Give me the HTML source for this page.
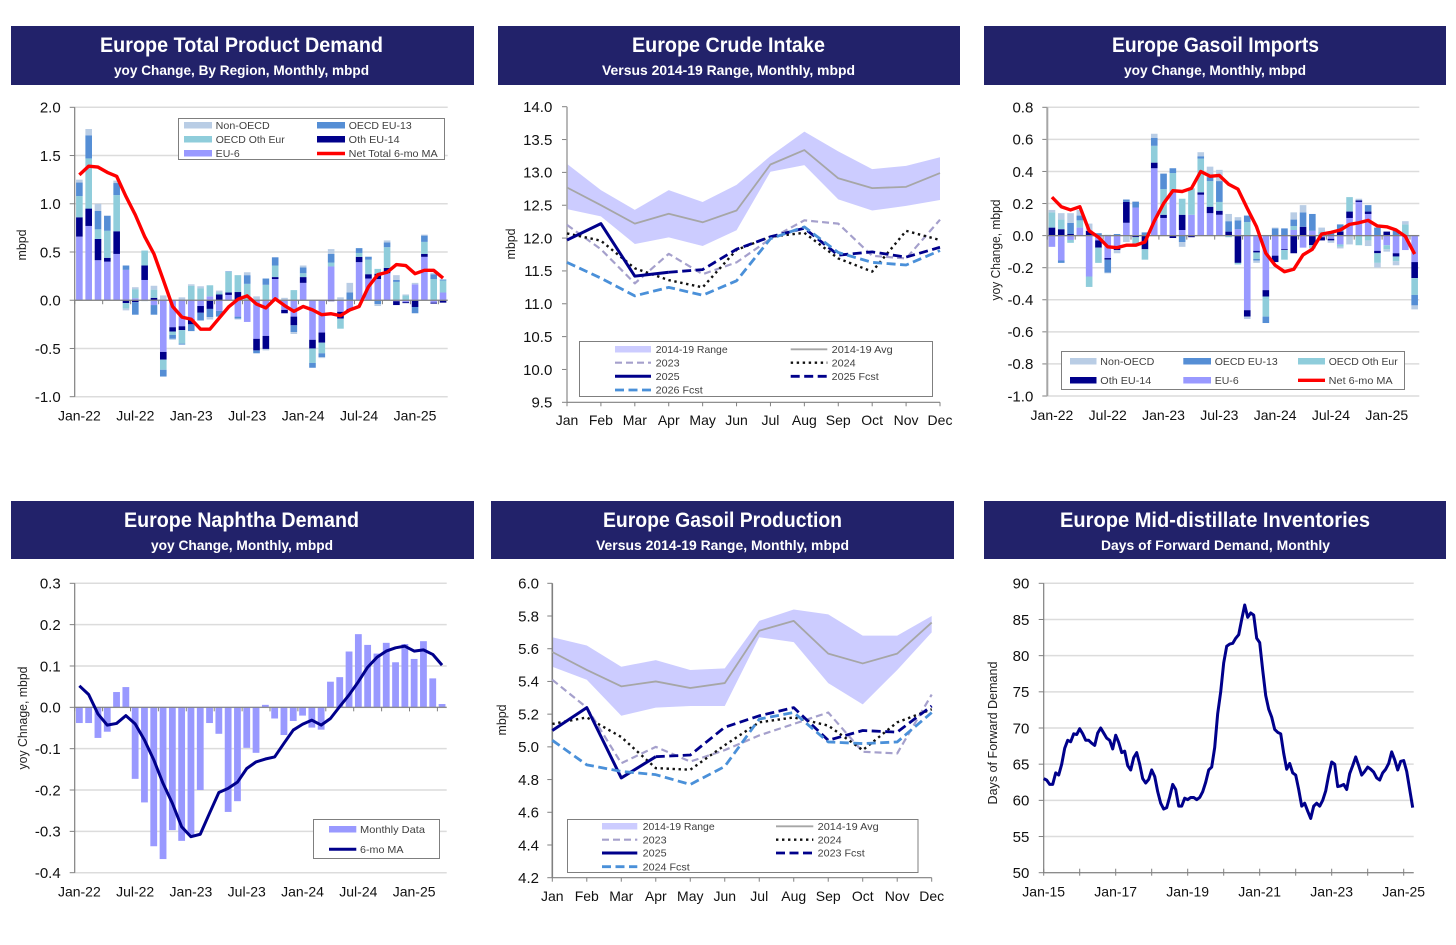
<!DOCTYPE html>
<html lang="en">
<head>
<meta charset="utf-8">
<title>Europe Oil Charts</title>
<style>
html,body{margin:0;padding:0;background:#fff;width:1456px;height:945px;overflow:hidden}
svg{display:block;font-family:"Liberation Sans",sans-serif}
.ttl{fill:#fff;font-size:21px;font-weight:bold;text-anchor:start}
.sub{fill:#fff;font-size:14px;font-weight:bold;text-anchor:start}
.lg{fill:#404040;font-size:10.5px}
.at{fill:#222;font-size:13px;text-anchor:middle}
.hd{fill:#22226a}
.lgbox{fill:#fff;stroke:#7f7f7f;stroke-width:1}
</style>
</head>
<body>
<svg id="root" xmlns="http://www.w3.org/2000/svg" width="1456" height="945" viewBox="0 0 1456 945">
<rect width="1456" height="945" fill="#fff"/>

<g>
<rect class="hd" x="11" y="26" width="463" height="59"/>
<text class="ttl" x="100" y="52" textLength="283" lengthAdjust="spacingAndGlyphs">Europe Total Product Demand</text>
<text class="sub" x="114" y="75" textLength="255" lengthAdjust="spacingAndGlyphs">yoy Change, By Region, Monthly, mbpd</text>
</g>
<g>
<rect class="hd" x="498" y="26" width="462" height="59"/>
<text class="ttl" x="632" y="52" textLength="193" lengthAdjust="spacingAndGlyphs">Europe Crude Intake</text>
<text class="sub" x="602" y="75" textLength="253" lengthAdjust="spacingAndGlyphs">Versus 2014-19 Range, Monthly, mbpd</text>
</g>
<g>
<rect class="hd" x="984" y="26" width="462" height="59"/>
<text class="ttl" x="1112" y="52" textLength="207" lengthAdjust="spacingAndGlyphs">Europe Gasoil Imports</text>
<text class="sub" x="1124" y="75" textLength="182" lengthAdjust="spacingAndGlyphs">yoy Change, Monthly, mbpd</text>
</g>
<g>
<rect class="hd" x="11" y="501" width="463" height="58"/>
<text class="ttl" x="124" y="527" textLength="235" lengthAdjust="spacingAndGlyphs">Europe Naphtha Demand</text>
<text class="sub" x="151" y="550" textLength="182" lengthAdjust="spacingAndGlyphs">yoy Change, Monthly, mbpd</text>
</g>
<g>
<rect class="hd" x="491" y="501" width="463" height="58"/>
<text class="ttl" x="603" y="527" textLength="239" lengthAdjust="spacingAndGlyphs">Europe Gasoil Production</text>
<text class="sub" x="596" y="550" textLength="253" lengthAdjust="spacingAndGlyphs">Versus 2014-19 Range, Monthly, mbpd</text>
</g>
<g>
<rect class="hd" x="984" y="501" width="462" height="58"/>
<text class="ttl" x="1060" y="527" textLength="310" lengthAdjust="spacingAndGlyphs">Europe Mid-distillate Inventories</text>
<text class="sub" x="1101" y="550" textLength="229" lengthAdjust="spacingAndGlyphs">Days of Forward Demand, Monthly</text>
</g>

<g id="chart1"></g>
<g id="chart2"></g>
<g id="chart3"></g>
<g id="chart4"></g>
<g id="chart5"></g>
<g id="chart6"></g>

<text class="at" transform="translate(26,245) rotate(-90)" textLength="31" lengthAdjust="spacingAndGlyphs">mbpd</text>
<text class="at" transform="translate(515,244) rotate(-90)" textLength="31" lengthAdjust="spacingAndGlyphs">mbpd</text>
<text class="at" transform="translate(1000,250) rotate(-90)" textLength="101" lengthAdjust="spacingAndGlyphs">yoy Change, mbpd</text>
<text class="at" transform="translate(27,718) rotate(-90)" textLength="103" lengthAdjust="spacingAndGlyphs">yoy Chnage, mbpd</text>
<text class="at" transform="translate(506,720) rotate(-90)" textLength="31" lengthAdjust="spacingAndGlyphs">mbpd</text>
<text class="at" transform="translate(997,733) rotate(-90)" textLength="143" lengthAdjust="spacingAndGlyphs">Days of Forward Demand</text>

<g>
<rect class="lgbox" x="178.5" y="118.5" width="266" height="41"/>
<rect x="184" y="122" width="28" height="6.5" fill="#b9cde5"/>
<text class="lg" x="215.7" y="129" textLength="54" lengthAdjust="spacingAndGlyphs">Non-OECD</text>
<rect x="184" y="136" width="28" height="6.5" fill="#8fcddb"/>
<text class="lg" x="215.7" y="143" textLength="69" lengthAdjust="spacingAndGlyphs">OECD Oth Eur</text>
<rect x="184" y="150" width="28" height="6.5" fill="#9999ff"/>
<text class="lg" x="215.7" y="157" textLength="24" lengthAdjust="spacingAndGlyphs">EU-6</text>
<rect x="317" y="122" width="28" height="6.5" fill="#558ed5"/>
<text class="lg" x="348.7" y="129" textLength="63" lengthAdjust="spacingAndGlyphs">OECD EU-13</text>
<rect x="317" y="136" width="28" height="6.5" fill="#00008b"/>
<text class="lg" x="348.7" y="143" textLength="51" lengthAdjust="spacingAndGlyphs">Oth EU-14</text>
<line x1="317" x2="345" y1="153.5" y2="153.5" stroke="#ff0000" stroke-width="3.4"/>
<text class="lg" x="348.7" y="157" textLength="89" lengthAdjust="spacingAndGlyphs">Net Total 6-mo MA</text>
</g>

<g>
<rect class="lgbox" x="579.5" y="341.5" width="353" height="55"/>
<rect x="615" y="346" width="36" height="6.5" fill="#ccccff"/>
<text class="lg" x="655.7" y="353" textLength="72" lengthAdjust="spacingAndGlyphs">2014-19 Range</text>
<line x1="790.7" x2="827.3" y1="349.3" y2="349.3" stroke="#a6a6a6" stroke-width="1.8"/>
<text class="lg" x="831.7" y="353" textLength="61" lengthAdjust="spacingAndGlyphs">2014-19 Avg</text>
<line x1="615" x2="651" y1="362.7" y2="362.7" stroke="#a5a0cc" stroke-width="2.2" stroke-dasharray="7 4"/>
<text class="lg" x="655.7" y="366.5" textLength="24" lengthAdjust="spacingAndGlyphs">2023</text>
<line x1="790.7" x2="827.3" y1="362.7" y2="362.7" stroke="#111" stroke-width="2.4" stroke-dasharray="2.4 3.6"/>
<text class="lg" x="831.7" y="366.5" textLength="24" lengthAdjust="spacingAndGlyphs">2024</text>
<line x1="615" x2="651" y1="376.3" y2="376.3" stroke="#00008b" stroke-width="3"/>
<text class="lg" x="655.7" y="380" textLength="24" lengthAdjust="spacingAndGlyphs">2025</text>
<line x1="790.7" x2="827.3" y1="376.3" y2="376.3" stroke="#00008b" stroke-width="2.8" stroke-dasharray="9 4.5"/>
<text class="lg" x="831.7" y="380" textLength="47" lengthAdjust="spacingAndGlyphs">2025 Fcst</text>
<line x1="615" x2="651" y1="390" y2="390" stroke="#4a90d9" stroke-width="2.8" stroke-dasharray="9 4.5"/>
<text class="lg" x="655.7" y="393.7" textLength="47" lengthAdjust="spacingAndGlyphs">2026 Fcst</text>
</g>

<g>
<rect class="lgbox" x="1061.5" y="351.5" width="343" height="38"/>
<rect x="1070" y="358" width="26.5" height="6.5" fill="#b9cde5"/>
<text class="lg" x="1100.3" y="365" textLength="54" lengthAdjust="spacingAndGlyphs">Non-OECD</text>
<rect x="1183.3" y="358" width="27.7" height="6.5" fill="#558ed5"/>
<text class="lg" x="1214.7" y="365" textLength="63" lengthAdjust="spacingAndGlyphs">OECD EU-13</text>
<rect x="1298" y="358" width="27" height="6.5" fill="#8fcddb"/>
<text class="lg" x="1328.7" y="365" textLength="69" lengthAdjust="spacingAndGlyphs">OECD Oth Eur</text>
<rect x="1070" y="377" width="26.5" height="6.5" fill="#00008b"/>
<text class="lg" x="1100.3" y="384" textLength="51" lengthAdjust="spacingAndGlyphs">Oth EU-14</text>
<rect x="1183.3" y="377" width="27.7" height="6.5" fill="#9999ff"/>
<text class="lg" x="1214.7" y="384" textLength="24" lengthAdjust="spacingAndGlyphs">EU-6</text>
<line x1="1298" x2="1325" y1="380.3" y2="380.3" stroke="#ff0000" stroke-width="3.4"/>
<text class="lg" x="1328.7" y="384" textLength="64" lengthAdjust="spacingAndGlyphs">Net 6-mo MA</text>
</g>

<g>
<rect class="lgbox" x="313.5" y="819.5" width="126" height="39"/>
<rect x="329" y="826" width="27.3" height="6.5" fill="#9999ff"/>
<text class="lg" x="360" y="833" textLength="65" lengthAdjust="spacingAndGlyphs">Monthly Data</text>
<line x1="329" x2="356.3" y1="849.3" y2="849.3" stroke="#00008b" stroke-width="3"/>
<text class="lg" x="360" y="853" textLength="43.5" lengthAdjust="spacingAndGlyphs">6-mo MA</text>
</g>

<g>
<rect class="lgbox" x="567.5" y="819.5" width="350.5" height="53"/>
<rect x="602" y="823" width="35.3" height="6.5" fill="#ccccff"/>
<text class="lg" x="642.7" y="830" textLength="72" lengthAdjust="spacingAndGlyphs">2014-19 Range</text>
<line x1="776" x2="813.3" y1="826.3" y2="826.3" stroke="#a6a6a6" stroke-width="1.8"/>
<text class="lg" x="817.7" y="830" textLength="61" lengthAdjust="spacingAndGlyphs">2014-19 Avg</text>
<line x1="602" x2="637.3" y1="839.7" y2="839.7" stroke="#a5a0cc" stroke-width="2.2" stroke-dasharray="7 4"/>
<text class="lg" x="642.7" y="843.5" textLength="24" lengthAdjust="spacingAndGlyphs">2023</text>
<line x1="776" x2="813.3" y1="839.7" y2="839.7" stroke="#111" stroke-width="2.4" stroke-dasharray="2.4 3.6"/>
<text class="lg" x="817.7" y="843.5" textLength="24" lengthAdjust="spacingAndGlyphs">2024</text>
<line x1="602" x2="637.3" y1="853" y2="853" stroke="#00008b" stroke-width="3"/>
<text class="lg" x="642.7" y="856.7" textLength="24" lengthAdjust="spacingAndGlyphs">2025</text>
<line x1="776" x2="813.3" y1="853" y2="853" stroke="#00008b" stroke-width="2.8" stroke-dasharray="9 4.5"/>
<text class="lg" x="817.7" y="856.7" textLength="47" lengthAdjust="spacingAndGlyphs">2023 Fcst</text>
<line x1="602" x2="637.3" y1="866.7" y2="866.7" stroke="#4a90d9" stroke-width="2.8" stroke-dasharray="9 4.5"/>
<text class="lg" x="642.7" y="870.4" textLength="47" lengthAdjust="spacingAndGlyphs">2024 Fcst</text>
</g>
</svg>

<script>
/* ---------- Chart 1: Europe Total Product Demand ---------- */
const c1XLabels = ['Jan-22','Jul-22','Jan-23','Jul-23','Jan-24','Jul-24','Jan-25'];
const c1YLabels = ['2.0','1.5','1.0','0.5','0.0','-0.5','-1.0'];
const c1Eu6 = [.66,.77,.415,.40,.48,.315,.02,.21,-.05,-.536,-.28,-.27,-.20,-.06,.04,-.11,.055,-.17,-.225,-.40,-.37,.22,-.10,-.17,.18,-.41,-.335,.35,-.12,-.09,.395,.225,.22,.28,-.01,-.02,.165,.45,-.025,.08];
const c1Oth14 = [.20,.18,.22,.04,.235,-.03,-.02,.15,.025,-.08,-.045,-.04,-.05,-.07,-.09,.06,.025,.085,0,-.12,-.135,.02,-.035,-.09,.06,-.09,-.105,-.01,-.07,-.01,.055,.045,.055,.055,-.04,-.01,-.07,.03,-.01,-.025];
const c1OthEur = [.22,.52,.10,.28,.375,-.055,.095,.155,.085,-.105,-.035,-.14,.15,.125,.115,.02,.215,.175,.17,0,.16,.12,0,.105,.04,-.15,-.11,.04,-.105,0,.04,.15,.05,.215,.19,.05,0,.125,.22,.125];
const c1Eu13 = [.14,.24,.19,.155,.125,.045,-.13,0,-.10,-.07,-.04,-.01,-.07,-.08,-.085,-.06,.005,-.02,.09,-.03,.065,.085,0,-.07,.06,-.05,-.04,.09,0,.08,.05,.03,-.04,.05,.02,0,-.065,.065,.05,.01];
const c1NonOecd = [.03,.065,.075,.005,.025,-.02,.02,-.01,.04,.05,-.01,.03,.015,.02,-.025,.02,0,-.01,.03,.04,-.015,0,.025,-.02,.02,0,-.01,.05,.03,.10,0,.005,-.02,.02,.05,.01,.015,.01,.015,0];
const c1NetMa = [1.30,1.39,1.38,1.325,1.285,1.075,.885,.66,.48,.21,-.065,-.175,-.197,-.30,-.30,-.185,-.07,.01,.045,-.04,-.08,.015,-.055,-.115,-.065,-.10,-.15,-.14,-.16,-.10,-.065,.14,.265,.29,.37,.36,.275,.31,.31,.23];

/* ---------- Chart 2: Europe Crude Intake ---------- */
const monthNames = ['Jan','Feb','Mar','Apr','May','Jun','Jul','Aug','Sep','Oct','Nov','Dec'];
const c2YLabels = ['14.0','13.5','13.0','12.5','12.0','11.5','11.0','10.5','10.0','9.5'];
const c2RangeLow = [12.44,12.33,11.91,12.01,11.88,12.12,13.01,13.11,12.59,12.42,12.49,12.58];
const c2RangeHigh = [13.13,12.73,12.43,12.73,12.55,12.81,13.25,13.62,13.32,13.05,13.10,13.23];
const c2Avg = [12.77,12.50,12.22,12.37,12.24,12.42,13.12,13.34,12.91,12.76,12.78,12.99];
const c2Y2023 = [12.20,11.83,11.31,11.76,11.45,11.63,11.99,12.27,12.22,11.73,11.69,12.28];
const c2Y2024 = [12.07,11.96,11.54,11.36,11.25,11.82,12.02,12.08,11.69,11.49,12.11,11.97];
const c2Y2025 = [11.97,12.22,11.42,11.48,null,null,null,null,null,null,null,null];
const c2F2025 = [null,null,null,11.48,11.52,11.83,12.02,12.15,11.74,11.79,11.71,11.86];
const c2F2026 = [11.63,11.39,11.12,11.25,11.13,11.35,11.99,12.17,11.78,11.63,11.59,11.81];

/* ---------- Chart 3: Europe Gasoil Imports ---------- */
const c3XLabels = ['Jan-22','Jul-22','Jan-23','Jul-23','Jan-24','Jul-24','Jan-25'];
const c3YLabels = ['0.8','0.6','0.4','0.2','0.0','-0.2','-0.4','-0.6','-0.8','-1.0'];
const c3Eu6 = [-.07,-.155,-.027,.05,-.255,-.03,-.14,-.08,.08,.175,0,.42,.11,.27,.035,.13,.255,.14,.13,0,.04,-.465,-.095,-.34,-.125,-.085,.035,-.075,.03,-.01,-.02,-.055,.11,.21,.135,-.095,-.06,-.11,-.09,-.165];
const c3Oth14 = [.05,.04,.01,0,.03,-.045,-.01,-.01,.13,-.01,-.085,.035,.02,-.015,.095,-.01,.015,.04,.025,.025,-.17,-.04,-.01,-.04,-.04,-.005,-.11,.055,-.06,-.02,-.01,.025,.04,.01,.015,-.015,.025,-.02,0,-.10];
const c3OthEur = [.095,.06,-.018,.045,-.065,-.095,.005,0,0,-.04,-.065,.105,.16,.12,.10,.165,.21,.16,.055,-.01,-.01,.085,-.04,-.125,0,-.06,.025,0,-.02,.025,0,-.015,.09,-.06,-.03,-.06,-.025,-.03,.07,-.105];
const c3Eu13 = [0,-.015,.07,.03,0,.015,-.08,.01,.015,.035,.02,.05,.095,.03,-.04,0,.015,.025,.13,.065,.055,.04,-.01,-.04,.045,.045,.04,.09,.105,0,.02,.045,0,0,.04,.05,0,.03,0,-.065];
const c3NonOecd = [.015,.04,.06,.035,.045,0,-.005,-.02,-.04,.005,0,.025,.005,0,-.03,0,.025,.065,.07,.045,.02,-.015,-.015,0,.005,0,.045,.045,0,.025,-.015,-.01,-.055,.01,-.035,-.03,-.015,-.025,.02,-.025];
const c3NetMa = [.24,.18,.16,.18,.03,-.01,-.07,-.075,-.06,-.06,-.04,.09,.20,.28,.275,.295,.40,.37,.375,.32,.29,.17,.055,-.11,-.185,-.225,-.21,-.12,-.085,.01,.02,.035,.07,.08,.095,.06,.055,.035,-.005,-.115];

/* ---------- Chart 4: Europe Naphtha Demand ---------- */
const c4XLabels = ['Jan-22','Jul-22','Jan-23','Jul-23','Jan-24','Jul-24','Jan-25'];
const c4YLabels = ['0.3','0.2','0.1','0.0','-0.1','-0.2','-0.3','-0.4'];
const c4Monthly = [-.038,-.038,-.074,-.059,.037,.049,-.173,-.23,-.336,-.367,-.297,-.323,-.31,-.20,-.038,-.064,-.253,-.227,-.098,-.11,.006,-.027,-.067,-.033,-.02,-.049,-.054,.062,.073,.135,.177,.151,.13,.156,.109,.153,.117,.16,.07,.008];
const c4Ma = [.052,.031,-.016,-.043,-.039,-.02,-.04,-.079,-.127,-.184,-.232,-.289,-.313,-.307,-.256,-.206,-.196,-.181,-.148,-.132,-.125,-.12,-.087,-.055,-.041,-.031,-.043,-.027,.002,.03,.062,.097,.121,.136,.144,.148,.136,.139,.128,.102];

/* ---------- Chart 5: Europe Gasoil Production ---------- */
const c5YLabels = ['6.0','5.8','5.6','5.4','5.2','5.0','4.8','4.6','4.4','4.2'];
const c5RangeLow = [5.49,5.41,5.19,5.24,5.25,5.25,5.67,5.64,5.39,5.26,5.47,5.70];
const c5RangeHigh = [5.67,5.62,5.49,5.53,5.47,5.48,5.77,5.84,5.81,5.68,5.68,5.80];
const c5Avg = [5.58,5.47,5.37,5.40,5.36,5.39,5.71,5.77,5.57,5.51,5.57,5.76];
const c5Y2023 = [5.41,5.24,4.90,5.00,4.91,4.98,5.07,5.14,5.21,4.97,4.96,5.32];
const c5Y2024 = [5.14,5.18,5.06,4.87,4.86,5.01,5.15,5.18,5.13,4.98,5.15,5.23];
const c5Y2025 = [5.10,5.24,4.81,4.94,null,null,null,null,null,null,null,null];
const c5F2023 = [null,null,null,4.94,4.95,5.12,5.19,5.24,5.04,5.10,5.09,5.25];
const c5F2024 = [5.04,4.89,4.85,4.83,4.77,4.88,5.17,5.21,5.03,5.02,5.03,5.21];

/* ---------- Chart 6: Europe Mid-distillate Inventories ---------- */
const c6XLabels = ['Jan-15','Jan-17','Jan-19','Jan-21','Jan-23','Jan-25'];
const c6YLabels = ['90','85','80','75','70','65','60','55','50'];
const c6Days = [63,62.8,62.2,62.2,63.8,63.5,65,67.2,68.3,68.1,69.2,69.1,
69.9,69.2,68.3,68.3,67.9,67.6,69.3,70,69.3,68.6,68.3,67.1,
69,68,66.6,66.8,64.8,64.2,65.9,66.6,65,63,62.4,62.9,
64.2,63.3,61.2,59.6,58.8,59,60.5,62.2,61.5,59.2,59.2,60.3,
60.1,60.4,60.4,60.1,60.4,61.2,62.5,64.2,64.6,67.3,72,75,
79,81.3,81.6,81.7,82.4,82.9,85,87,85.3,85.9,85.6,82.4,
81.8,78,74.5,72.6,71.5,69.8,69.4,69.2,66.5,64.3,65.1,63.8,
63.5,61.5,59.2,59.6,58.5,57.5,59.2,59.6,59.2,60,61.3,63.5,
65.3,65,61.9,62,62.2,61.5,63.7,64.8,66,64.8,63.5,64,
64.6,64.3,63.9,63.1,62.8,63.8,64.3,65.1,66.7,65.6,64.2,65.4,
65.5,64,61.5,59];

const SVGNS = 'http://www.w3.org/2000/svg';
const stackColors = {eu6:'#9999ff', oth14:'#00008b', othEur:'#8fcddb', eu13:'#558ed5', non:'#b9cde5'};

function mk(parent, tag, attrs, txt){
  const el = document.createElementNS(SVGNS, tag);
  for (const k in attrs) el.setAttribute(k, attrs[k]);
  if (txt !== undefined) el.textContent = txt;
  parent.appendChild(el);
  return el;
}
function scale(d0, d1, r0, r1){ return v => r0 + (v - d0) * (r1 - r0) / (d1 - d0); }

function drawYAxis(g, box, y, labels, labelRight, axisColor, axisWidth, grid){
  labels.forEach(lab => {
    const py = y(parseFloat(lab));
    if (grid) {
      const gl = mk(g, 'line', {x1:box.left, x2:box.right, y1:py, y2:py, stroke:'#dcdcdc', 'stroke-width':1.5});
      
      
    }
    const tk = mk(g, 'line', {x1:box.left-5, x2:box.left, y1:py, y2:py, stroke:'#808080', 'stroke-width':1});
    
    
    const tx = mk(g, 'text', {x:labelRight, y:py+5.3, 'text-anchor':'end', 'font-size':15, fill:'#111'}, lab);
    
    
  });
  const ax = mk(g, 'line', {x1:box.left, x2:box.left, y1:box.top, y2:box.bottom, stroke:axisColor, 'stroke-width':axisWidth});
  
  
}

function drawXLabel(g, px, py, lab){
  const tx = mk(g, 'text', {x:px, y:py, 'text-anchor':'middle', 'font-size':14, fill:'#111'}, lab);
  
  
}

function drawStacks(g, series, colors, x, y, barW){
  const n = series[0].length;
  for (let i = 0; i < n; i++) {
    let pos = 0, neg = 0;
    series.forEach((s, k) => {
      const v = s[i];
      if (!v) return;
      const start = v > 0 ? pos : neg;
      const end = start + v;
      if (v > 0) pos = end; else neg = end;
      const top = Math.min(y(start), y(end));
      const r = mk(g, 'rect', {x:x(i)-barW/2, y:top, width:barW, height:Math.abs(y(end)-y(start)), fill:colors[k]});
      
      
    });
  }
}

function drawLine(g, values, x, y, style){
  const pts = [];
  values.forEach((v, i) => { if (v !== null) pts.push(x(i).toFixed(2) + ',' + y(v).toFixed(2)); });
  const attrs = {points:pts.join(' '), fill:'none', stroke:style.color, 'stroke-width':style.width, 'stroke-linejoin':'round'};
  if (style.dash) attrs['stroke-dasharray'] = style.dash;
  const p = mk(g, 'polyline', attrs);
  
  
}

function drawBand(g, low, high, x, y){
  const pts = [];
  high.forEach((v, i) => pts.push(x(i).toFixed(2) + ',' + y(v).toFixed(2)));
  for (let i = low.length - 1; i >= 0; i--) pts.push(x(i).toFixed(2) + ',' + y(low[i]).toFixed(2));
  const b = mk(g, 'polygon', {points:pts.join(' '), fill:'#ccccff'});
  
  
}

function drawBarChart(id, box, yMin, yMax, yLabels, labelRight, xLabels, labelY, axisColor, axisWidth, draw){
  const g = document.getElementById(id);
  const n = 40;
  const step = (box.right - box.left) / n;
  const x = i => box.left + (i + 0.5) * step;
  const y = scale(yMin, yMax, box.bottom, box.top);
  drawYAxis(g, box, y, yLabels, labelRight, axisColor, axisWidth, true);
  draw(g, x, y);
  const z = y(0);
  const zl = mk(g, 'line', {x1:box.left, x2:box.right, y1:z, y2:z, stroke:'#808080', 'stroke-width':1.2});
  
  
  for (let i = 0; i <= n; i += 3) {
    const t = mk(g, 'line', {x1:box.left+i*step, x2:box.left+i*step, y1:z, y2:z+4, stroke:'#808080', 'stroke-width':1});
    
    
  }
  xLabels.forEach((lab, k) => drawXLabel(g, x(k * 6), labelY, lab));
  return {g, x, y};
}

function drawSeasonalChart(id, box, yMin, yMax, yLabels, labelRight, labelY, axisColor, low, high, lines){
  const g = document.getElementById(id);
  const x = scale(0, monthNames.length - 1, box.left, box.right);
  const y = scale(yMin, yMax, box.bottom, box.top);
  drawBand(g, low, high, x, y);
  drawYAxis(g, box, y, yLabels, labelRight, axisColor, 1.6, false);
  const bl = mk(g, 'line', {x1:box.left, x2:box.right, y1:box.bottom, y2:box.bottom, stroke:'#808080', 'stroke-width':1.2});
  
  
  monthNames.forEach((m, i) => {
    const t = mk(g, 'line', {x1:x(i), x2:x(i), y1:box.bottom, y2:box.bottom+4, stroke:'#808080', 'stroke-width':1});
    
    
    drawXLabel(g, x(i), labelY, m);
  });
  lines.forEach(l => drawLine(g, l.values, x, y, l));
}

const stackOrder = [stackColors.eu6, stackColors.oth14, stackColors.othEur, stackColors.eu13, stackColors.non];

drawBarChart('chart1', {left:74.7, right:447.7, top:107.3, bottom:396.7}, -1, 2, c1YLabels, 60.7, c1XLabels, 420.7, '#808080', 1.2, (g, x, y) => {
  drawStacks(g, [c1Eu6, c1Oth14, c1OthEur, c1Eu13, c1NonOecd], stackOrder, x, y, 6.6);
});
(function(){
  const x = i => 74.7 + (i + 0.5) * (373 / 40);
  const y = scale(-1, 2, 396.7, 107.3);
  drawLine(document.getElementById('chart1'), c1NetMa, x, y, {color:'#ff0000', width:3.4});
})();

drawSeasonalChart('chart2', {left:567, right:940, top:106.7, bottom:402.3}, 9.5, 14, c2YLabels, 552.3, 425, '#a6a6a6', c2RangeLow, c2RangeHigh, [
  {values:c2Avg, color:'#a6a6a6', width:1.8},
  {values:c2Y2023, color:'#a5a0cc', width:2.2, dash:'7 4'},
  {values:c2Y2024, color:'#111', width:2.4, dash:'2.4 3.6'},
  {values:c2Y2025, color:'#00008b', width:3},
  {values:c2F2025, color:'#00008b', width:2.8, dash:'9 4.5'},
  {values:c2F2026, color:'#4a90d9', width:2.8, dash:'9 4.5'}
]);

drawBarChart('chart3', {left:1047.3, right:1419.3, top:107.3, bottom:396}, -1, 0.8, c3YLabels, 1033.3, c3XLabels, 420, '#a6a6a6', 2, (g, x, y) => {
  drawStacks(g, [c3Eu6, c3Oth14, c3OthEur, c3Eu13, c3NonOecd], stackOrder, x, y, 6.6);
});
(function(){
  const x = i => 1047.3 + (i + 0.5) * (372 / 40);
  const y = scale(-1, 0.8, 396, 107.3);
  drawLine(document.getElementById('chart3'), c3NetMa, x, y, {color:'#ff0000', width:3.4});
})();

drawBarChart('chart4', {left:74.7, right:446.7, top:583.3, bottom:872.7}, -0.4, 0.3, c4YLabels, 60.7, c4XLabels, 896.7, '#808080', 1.2, (g, x, y) => {
  drawStacks(g, [c4Monthly], ['#9999ff'], x, y, 6.8);
});
(function(){
  const x = i => 74.7 + (i + 0.5) * (372 / 40);
  const y = scale(-0.4, 0.3, 872.7, 583.3);
  drawLine(document.getElementById('chart4'), c4Ma, x, y, {color:'#00008b', width:3});
})();

drawSeasonalChart('chart5', {left:552.3, right:931.7, top:583.3, bottom:877.7}, 4.2, 6, c5YLabels, 539, 901, '#808080', c5RangeLow, c5RangeHigh, [
  {values:c5Avg, color:'#a6a6a6', width:1.8},
  {values:c5Y2023, color:'#a5a0cc', width:2.2, dash:'7 4'},
  {values:c5Y2024, color:'#111', width:2.4, dash:'2.4 3.6'},
  {values:c5Y2025, color:'#00008b', width:3},
  {values:c5F2023, color:'#00008b', width:2.8, dash:'9 4.5'},
  {values:c5F2024, color:'#4a90d9', width:2.8, dash:'9 4.5'}
]);

(function(){
  const g = document.getElementById('chart6');
  const box = {left:1043.7, right:1413.7, top:583.3, bottom:872.7};
  const x = i => box.left + i * 3;
  const y = scale(50, 90, box.bottom, box.top);
  drawYAxis(g, box, y, c6YLabels, 1029.3, '#808080', 1.2, true);
  for (let i = 0; i <= c6Days.length; i += 12) {
    const t = mk(g, 'line', {x1:x(i), x2:x(i), y1:box.bottom-4, y2:box.bottom+3, stroke:'#808080', 'stroke-width':1});
    
    
  }
  const bl = mk(g, 'line', {x1:box.left, x2:box.right, y1:box.bottom, y2:box.bottom, stroke:'#808080', 'stroke-width':1.2});
  
  
  c6XLabels.forEach((lab, k) => drawXLabel(g, x(k * 24), 896.7, lab));
  drawLine(g, c6Days, x, y, {color:'#00008b', width:3});
})();
</script>
</body>
</html>
